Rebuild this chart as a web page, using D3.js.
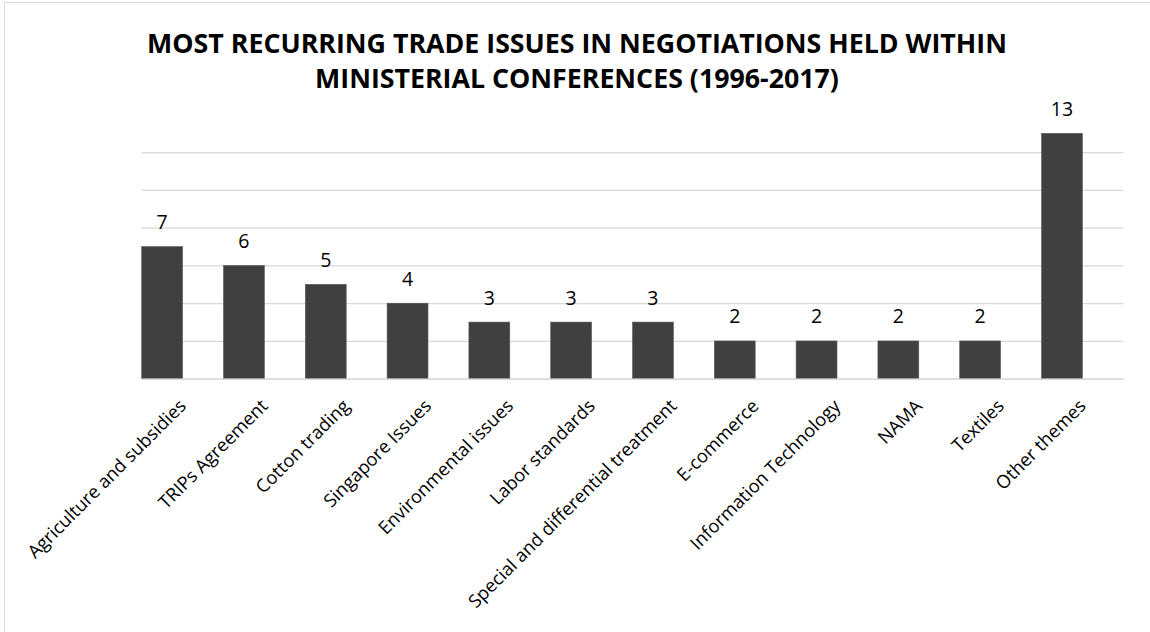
<!DOCTYPE html>
<html>
<head>
<meta charset="utf-8">
<script src="https://cdn.jsdelivr.net/npm/d3@7"></script>
<style>
  html, body { margin: 0; padding: 0; background: #fff; }
  svg { display: block; }
</style>
</head>
<body>
<svg id="chart" width="1150" height="632"></svg>
<script>
// Trade issues and how often each came up across ministerial conferences
const issues = [
  "Agriculture and subsidies", "TRIPs Agreement", "Cotton trading", "Singapore Issues",
  "Environmental issues", "Labor standards", "Special and differential treatment",
  "E-commerce", "Information Technology", "NAMA", "Textiles", "Other themes"
];
const occurrences = [7, 6, 5, 4, 3, 3, 3, 2, 2, 2, 2, 13];
// clustered layout: the second slot in each category is left empty
const seriesSlots = ["occurrences", "empty"];
const gridTicks = [0, 2, 4, 6, 8, 10, 12];
const titleLines = [
  "MOST RECURRING TRADE ISSUES IN NEGOTIATIONS HELD WITHIN",
  "MINISTERIAL CONFERENCES (1996-2017)"
];

const svg = d3.select("#chart");
const W = 1150, H = 632;
const plot = { left: 141.7, right: 1123.3, top: 133.3, bottom: 378.7 };

// chart frame
svg.append("rect")
  .attr("x", 4.5).attr("y", 2.5)
  .attr("width", W + 10).attr("height", H + 10)
  .attr("fill", "#fff").attr("stroke", "#d9d9d9").attr("stroke-width", 1);

const x = d3.scaleBand().domain(issues).range([plot.left, plot.right]).padding(0);
const xs = d3.scaleBand().domain(seriesSlots).range([0, x.bandwidth()]).padding(0);
const y = d3.scaleLinear().domain([0, 13]).range([plot.bottom, plot.top]);

// horizontal gridlines
const yAxis = d3.axisLeft(y).tickValues(gridTicks)
  .tickSize(-(plot.right - plot.left)).tickFormat("");
const gy = svg.append("g").attr("transform", `translate(${plot.left},0)`).call(yAxis);
gy.select(".domain").remove();
gy.selectAll(".tick line").attr("stroke", "#d9d9d9").attr("stroke-width", 1.2);

// bars
const data = issues.map((d, i) => ({ issue: d, value: occurrences[i] }));
svg.append("g").selectAll("rect").data(data).join("rect")
  .attr("x", d => x(d.issue) + xs("occurrences"))
  .attr("y", d => y(d.value))
  .attr("width", xs.bandwidth())
  .attr("height", d => y(0) - y(d.value))
  .attr("fill", "#404040")
  .attr("stroke", "#5a5a5a").attr("stroke-width", 0.6);

// category axis (baseline + rotated labels)
const xAxis = d3.axisBottom(x).tickSize(0).tickPadding(0);
const gx = svg.append("g").attr("transform", `translate(0,${plot.bottom})`).call(xAxis);
gx.select(".domain").attr("stroke", "#d9d9d9").attr("stroke-width", 1.2);
gx.selectAll(".tick text")
  .attr("font-family", "'Open Sans', sans-serif")
  .attr("font-size", 18.3)
  .attr("fill", "#000")
  .attr("text-anchor", "end")
  .attr("dy", 0)
  .attr("transform", "translate(4.5,28.5) rotate(-45)");

// value labels above the bars
svg.append("g").selectAll("text").data(data).join("text")
  .attr("x", d => x(d.issue) + xs("occurrences") + xs.bandwidth() / 2)
  .attr("y", d => y(d.value) - 17.5)
  .attr("text-anchor", "middle")
  .attr("font-family", "'Open Sans', sans-serif")
  .attr("font-size", 19.5)
  .attr("fill", "#000")
  .text(d => d.value);

// title, sized so the first line spans the intended width
const title = svg.append("g");
const tl = title.selectAll("text").data(titleLines).join("text")
  .attr("x", W / 2 + 2)
  .attr("y", (d, i) => 53.3 + i * 35)
  .attr("text-anchor", "middle")
  .attr("font-family", "'Open Sans', sans-serif")
  .attr("font-weight", 700)
  .attr("font-size", 23)
  .attr("fill", "#000")
  .text(d => d);
const w0 = tl.nodes()[0].getComputedTextLength();
const fs = 23 * 860 / w0;
tl.attr("font-size", fs);
</script>
</body>
</html>
